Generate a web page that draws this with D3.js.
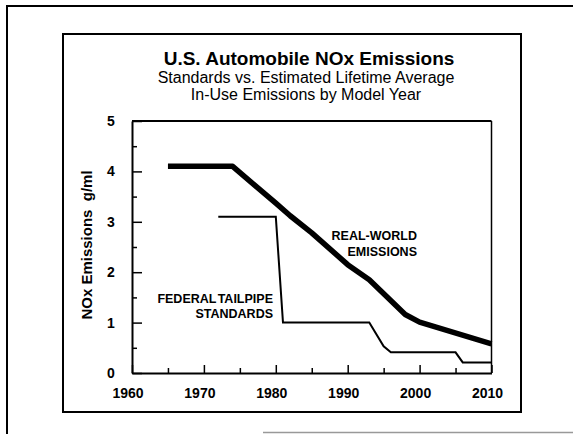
<!DOCTYPE html>
<html>
<head>
<meta charset="utf-8">
<script src="https://cdn.jsdelivr.net/npm/d3@7/dist/d3.min.js"></script>
<style>
  html, body { margin: 0; padding: 0; background: #fff; }
  svg { display: block; }
  text { font-family: "Liberation Sans", Arial, Helvetica, sans-serif; fill: #000; }
</style>
</head>
<body>
<svg id="chart" width="573" height="434"></svg>
<script>
// ---- data ----
const realWorldYears  = [1965, 1974, 1980, 1982, 1985, 1990, 1993, 1998, 2000, 2010];
const realWorldValues = [4.1,  4.1,  3.37, 3.12, 2.78, 2.15, 1.85, 1.16, 1.01, 0.58];
const standardYears   = [1972, 1980, 1981, 1993, 1995, 1996, 2005, 2006, 2010];
const standardValues  = [3.1,  3.1,  1.0,  1.0,  0.53, 0.41, 0.41, 0.21, 0.21];
const xTickLabels = [1960, 1970, 1980, 1990, 2000, 2010];
const xMinorTicks = [1965, 1975, 1985, 1995, 2005];
const yTickLabels = [0, 1, 2, 3, 4, 5];
const yMinorTicks = [0.5, 1.5, 2.5, 3.5, 4.5];
const titleText = "U.S. Automobile NOx Emissions";
const subtitleLines = ["Standards vs. Estimated Lifetime Average", "In-Use Emissions by Model Year"];
const yAxisTitle = "NOx Emissions  g/ml";
const realWorldLabel = ["REAL-WORLD", "EMISSIONS"];
const standardLabel = ["FEDERAL TAILPIPE", "STANDARDS"];

const svg = d3.select("#chart");

// page borders (scan edges)
svg.append("line").attr("x1", 7).attr("y1", 5).attr("x2", 7).attr("y2", 434)
  .attr("stroke", "#000").attr("stroke-width", 2);
svg.append("line").attr("x1", 6).attr("y1", 6).attr("x2", 573).attr("y2", 6)
  .attr("stroke", "#000").attr("stroke-width", 2);
svg.append("line").attr("x1", 263).attr("y1", 432.5).attr("x2", 573).attr("y2", 432.5)
  .attr("stroke", "#999").attr("stroke-width", 1.5);

// outer frame
svg.append("rect").attr("x", 63).attr("y", 34).attr("width", 458).attr("height", 378)
  .attr("fill", "none").attr("stroke", "#000").attr("stroke-width", 2);

// scales
const x = d3.scaleLinear().domain([1960, 2010]).range([132, 491.5]);
const y = d3.scaleLinear().domain([0, 5]).range([373, 121]);

// plot box top & right
svg.append("line").attr("x1", x(1960)).attr("y1", y(5)).attr("x2", x(2010)).attr("y2", y(5))
  .attr("stroke", "#000").attr("stroke-width", 1.8);
svg.append("line").attr("x1", x(2010)).attr("y1", y(5)).attr("x2", x(2010)).attr("y2", y(0))
  .attr("stroke", "#000").attr("stroke-width", 1.5);

// y axis major
const yAxis = svg.append("g").attr("transform", `translate(${x(1960)},0)`)
  .call(d3.axisLeft(y).tickValues(yTickLabels).tickFormat(d3.format("d")).tickSizeInner(-10).tickSizeOuter(0).tickPadding(0));
yAxis.select(".domain").attr("stroke-width", 2);
yAxis.selectAll(".tick line").attr("stroke-width", 1.5);
yAxis.selectAll(".tick text").attr("x", -21).attr("text-anchor", "middle")
  .style("font-size", "14px").style("font-weight", "bold").style("font-family", "'Liberation Sans', Arial, sans-serif");
// y axis minor
const yMinor = svg.append("g").attr("transform", `translate(${x(1960)},0)`)
  .call(d3.axisLeft(y).tickValues(yMinorTicks).tickFormat("").tickSizeInner(-5).tickSizeOuter(0));
yMinor.select(".domain").remove();
yMinor.selectAll(".tick line").attr("stroke-width", 1.5);

// x axis major
const xAxis = svg.append("g").attr("transform", `translate(0,${y(0)})`)
  .call(d3.axisBottom(x).tickValues(xTickLabels).tickFormat(d3.format("d")).tickSizeInner(-8).tickSizeOuter(0).tickPadding(15));
xAxis.select(".domain").attr("stroke-width", 2);
xAxis.selectAll(".tick line").attr("stroke-width", 1.5);
xAxis.selectAll(".tick text").attr("x", -4.5)
  .style("font-size", "14px").style("font-weight", "bold").style("font-family", "'Liberation Sans', Arial, sans-serif");
// x axis minor
const xMinor = svg.append("g").attr("transform", `translate(0,${y(0)})`)
  .call(d3.axisBottom(x).tickValues(xMinorTicks).tickFormat("").tickSizeInner(-5).tickSizeOuter(0));
xMinor.select(".domain").remove();
xMinor.selectAll(".tick line").attr("stroke-width", 1.5);

// lines
const line = d3.line().x(d => x(d[0])).y(d => y(d[1]));
svg.append("path")
  .datum(realWorldYears.map((yr, i) => [yr, realWorldValues[i]]))
  .attr("d", line).attr("fill", "none").attr("stroke", "#000")
  .attr("stroke-width", 5.5).attr("stroke-linejoin", "round");
svg.append("path")
  .datum(standardYears.map((yr, i) => [yr, standardValues[i]]))
  .attr("d", line).attr("fill", "none").attr("stroke", "#000")
  .attr("stroke-width", 2).attr("stroke-linejoin", "miter");

// titles
svg.append("text").attr("x", 309).attr("y", 64.5).attr("text-anchor", "middle")
  .style("font-size", "19px").style("font-weight", "bold").text(titleText);
svg.selectAll(".sub").data(subtitleLines).join("text").attr("class", "sub")
  .attr("x", 306).attr("y", (d, i) => 83 + i * 17).attr("text-anchor", "middle")
  .style("font-size", "16px").text(d => d);

// y axis title
svg.append("text").attr("transform", "translate(91.5,245) rotate(-90)")
  .attr("text-anchor", "middle").style("font-size", "15px").style("font-weight", "bold")
  .attr("xml:space", "preserve").text(yAxisTitle);

// annotations
svg.selectAll(".rw").data(realWorldLabel).join("text").attr("class", "rw")
  .attr("x", 417).attr("y", (d, i) => 240 + i * 15.5).attr("text-anchor", "end")
  .style("font-size", "12.5px").style("font-weight", "bold").text(d => d);
svg.selectAll(".fs").data(standardLabel).join("text").attr("class", "fs")
  .attr("x", 273).attr("y", (d, i) => 303 + i * 15).attr("text-anchor", "end")
  .style("font-size", "12.5px").style("font-weight", "bold").style("word-spacing", "-2px").text(d => d);
</script>
</body>
</html>
